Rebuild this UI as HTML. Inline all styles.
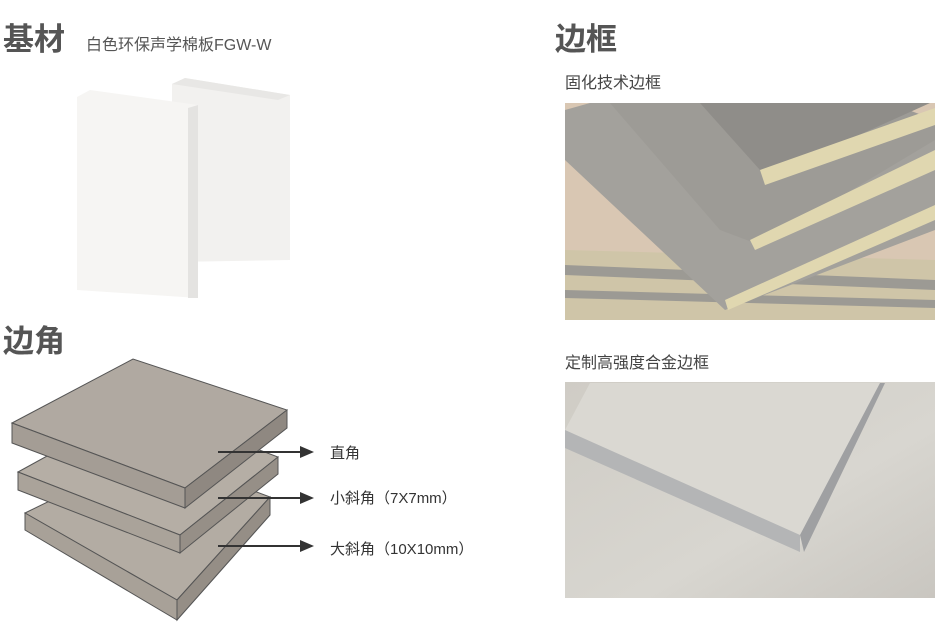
<!DOCTYPE html>
<html><head><meta charset="utf-8"><style>
body{margin:0;width:937px;height:629px;background:#fff;overflow:hidden;position:relative;font-family:"Liberation Sans","Noto Sans CJK SC",sans-serif;color:#444}
.t{position:absolute;white-space:nowrap}
</style></head><body>
<div class="t" style="left:3px;top:14px;font-size:31px;color:#555;font-weight:bold">基材</div>
<div class="t" style="left:86px;top:31px;font-size:16px;color:#555">白色环保声学棉板FGW-W</div>
<div class="t" style="left:555px;top:14px;font-size:31px;color:#555;font-weight:bold">边框</div>
<div class="t" style="left:565px;top:69px;font-size:16px;color:#444">固化技术边框</div>
<div class="t" style="left:565px;top:349px;font-size:16px;color:#444">定制高强度合金边框</div>
<div class="t" style="left:3px;top:316px;font-size:31px;color:#555;font-weight:bold">边角</div>
<div class="t" style="left:330px;top:442px;font-size:15px;color:#333">直角</div>
<div class="t" style="left:330px;top:487px;font-size:15px;color:#333">小斜角（7X7mm）</div>
<div class="t" style="left:330px;top:538px;font-size:15px;color:#333">大斜角（10X10mm）</div>
<svg width="937" height="629" style="position:absolute;left:0;top:0">
<defs>
<linearGradient id="p2" x1="0" y1="0" x2="1" y2="1"><stop offset="0" stop-color="#cfccc5"/><stop offset=".6" stop-color="#d8d6d0"/><stop offset="1" stop-color="#c9c6c0"/></linearGradient>
</defs>
<polygon points="172,84 185,78 290,95 290,260 172,262" fill="#f2f1ef"/>
<polygon points="172,84 185,78 290,95 278,100" fill="#e8e7e5"/>
<polygon points="77,97 90,90 198,105 198,298 77,290" fill="#f6f5f3"/>
<polygon points="188,108 198,105 198,298 188,298" fill="#e4e3e1"/>
<polygon points="25,513 150,452 270,497 177,600" fill="#b3aca3" stroke="#555" stroke-width="1"/>
<polygon points="25,513 177,600 177,620 25,530" fill="#a8a198" stroke="#555"/>
<polygon points="177,600 270,497 270,515 177,620" fill="#958e86" stroke="#555"/>
<polygon points="18,472 140,405 278,457 180,535" fill="#b5aea5" stroke="#555"/>
<polygon points="18,472 180,535 180,553 18,490" fill="#aaa39a" stroke="#555"/>
<polygon points="180,535 278,457 278,474 180,553" fill="#968f87" stroke="#555"/>
<polygon points="12,423 133,359 287,410 185,488" fill="#b0a9a1" stroke="#555"/>
<polygon points="12,423 185,488 185,508 12,443" fill="#a49d95" stroke="#555"/>
<polygon points="185,488 287,410 287,428 185,508" fill="#8f8881" stroke="#555"/>
<g stroke="#333" stroke-width="2" fill="#333">
<line x1="218" y1="452" x2="300" y2="452"/><polygon points="300,446 314,452 300,458" stroke="none"/>
<line x1="218" y1="498" x2="300" y2="498"/><polygon points="300,492 314,498 300,504" stroke="none"/>
<line x1="218" y1="546" x2="300" y2="546"/><polygon points="300,540 314,546 300,552" stroke="none"/>
</g>
<rect x="565" y="103" width="370" height="217" fill="#d9c7b3"/>
<polygon points="565,250 935,260 935,320 565,320" fill="#cfc5a8"/>
<polygon points="565,265 935,280 935,290 565,275" fill="#9c9a94"/>
<polygon points="565,290 935,300 935,308 565,298" fill="#9c9a94"/>
<polygon points="565,110 590,103 760,103 935,140 935,230 725,310 565,160" fill="#a3a19c"/>
<polygon points="610,103 890,103 935,120 935,140 760,245 720,230" fill="#9d9b96"/>
<polygon points="700,103 930,103 770,175 760,170" fill="#8f8d89"/>
<polygon points="760,170 935,108 935,125 765,185" fill="#e0d7b0"/>
<polygon points="750,240 935,150 935,170 755,250" fill="#e0d7b0"/>
<polygon points="725,300 935,205 935,220 728,310" fill="#e0d7b0"/>
<rect x="565" y="382" width="370" height="216" fill="url(#p2)"/>
<polygon points="565,430 590,383 882,383 800,545 565,440" fill="#dad8d2"/>
<polygon points="565,430 800,535 800,552 565,448" fill="#b4b5b6"/>
<polygon points="800,535 880,383 885,383 804,552" fill="#9fa0a2"/>
</svg>
</body></html>
